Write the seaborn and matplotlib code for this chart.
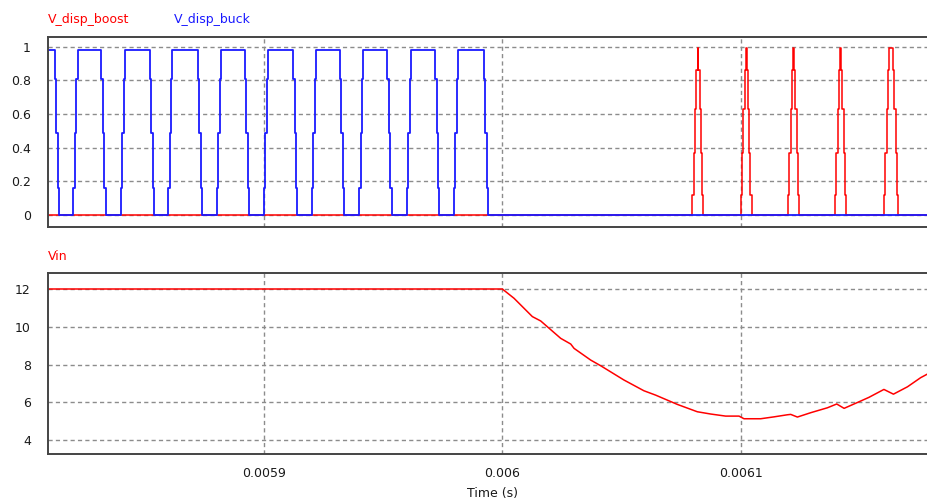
import matplotlib
matplotlib.use("Agg")
import matplotlib.pyplot as plt
import seaborn as sns
import pandas as pd

# ---- waveform data (times in microseconds) ----
# Buck drive: pulse edges and the stepped levels seen on each edge
buck_fall_us = [5812.2, 5831.8, 5852.2, 5872.2, 5891.9, 5912.2, 5931.9, 5951.8, 5971.8, 5992.3]
buck_rise_us = [5820.0, 5840.0, 5859.8, 5880.2, 5900.0, 5920.0, 5939.9, 5959.9, 5979.7]
buck_edge_up = [0.16, 0.49, 0.81]
buck_edge_down = [0.81, 0.49, 0.16]
buck_high = 0.98
buck_step_us = 0.6

# Boost drive: short pulses after the input drop
boost_rise_us = [6079.7, 6100.0, 6119.9, 6139.6, 6160.1]
boost_hold_us = [0.4, 0.4, 0.4, 0.4, 1.7]
boost_edge_up = [0.12, 0.37, 0.63, 0.86]
boost_edge_down = [0.86, 0.63, 0.37, 0.12]
boost_high = 0.99
boost_step_up_us = 0.55
boost_step_down_us = 0.5

# Input voltage
vin_t_us = [5809.2, 6000.0, 6004.9, 6012.6, 6016.1, 6024.5, 6028.7, 6030.1, 6037.1, 6041.3,
            6051.0, 6059.4, 6064.3, 6073.4, 6081.8, 6087.4, 6093.7, 6099.3, 6101.4, 6108.4,
            6114.0, 6119.6, 6121.0, 6123.8, 6129.4, 6136.4, 6140.3, 6143.4, 6149.0, 6153.8,
            6160.1, 6164.1, 6170.0, 6175.5, 6178.9]
vin_v = [12, 12, 11.51, 10.54, 10.31, 9.39, 9.09, 8.86, 8.24, 7.94,
         7.19, 6.62, 6.39, 5.90, 5.51, 5.39, 5.28, 5.28, 5.14, 5.14,
         5.24, 5.35, 5.37, 5.23, 5.46, 5.72, 5.92, 5.69, 6.0, 6.27,
         6.69, 6.44, 6.83, 7.31, 7.54]

x_ticks = [0.0059, 0.006, 0.0061]
x_tick_labels = ["0.0059", "0.006", "0.0061"]
top_yticks = [0, 0.2, 0.4, 0.6, 0.8, 1]
top_ytick_labels = ["0", "0.2", "0.4", "0.6", "0.8", "1"]
bot_yticks = [4, 6, 8, 10, 12]
bot_ytick_labels = ["4", "6", "8", "10", "12"]

T_START_US, T_END_US = 5809.17, 6178.6


def steps_to_frame(events):
    """Turn (time, level) change points into a step trace (held until next change)."""
    events = sorted(events)
    ts, vs = [], []
    for (t0, v0), (t1, _) in zip(events[:-1], events[1:]):
        ts += [t0 * 1e-6, t1 * 1e-6]
        vs += [v0, v0]
    ts.append(events[-1][0] * 1e-6)
    vs.append(events[-1][1])
    return pd.DataFrame({"t": ts, "v": vs})


# buck trace
buck_ev = [(T_START_US, buck_high)]
for f in buck_fall_us:
    for k, lv in enumerate(buck_edge_down):
        buck_ev.append((f + k * buck_step_us, lv))
    buck_ev.append((f + len(buck_edge_down) * buck_step_us, 0.0))
for r in buck_rise_us:
    for k, lv in enumerate(buck_edge_up):
        buck_ev.append((r + k * buck_step_us, lv))
    buck_ev.append((r + len(buck_edge_up) * buck_step_us, buck_high))
buck_ev.append((T_END_US, 0.0))
buck_df = steps_to_frame(buck_ev)

# boost trace
boost_ev = [(T_START_US, 0.0)]
for r, h in zip(boost_rise_us, boost_hold_us):
    for k, lv in enumerate(boost_edge_up):
        boost_ev.append((r + k * boost_step_up_us, lv))
    t_peak = r + len(boost_edge_up) * boost_step_up_us
    boost_ev.append((t_peak, boost_high))
    t_fall = t_peak + h
    for k, lv in enumerate(boost_edge_down):
        boost_ev.append((t_fall + k * boost_step_down_us, lv))
    boost_ev.append((t_fall + len(boost_edge_down) * boost_step_down_us, 0.0))
boost_ev.append((T_END_US, 0.0))
boost_df = steps_to_frame(boost_ev)

vin_df = pd.DataFrame({"t": [t * 1e-6 for t in vin_t_us], "v": vin_v})

# ---- figure ----
sns.set_style("white")
plt.rcParams["font.family"] = ["DejaVu Sans"]
plt.rcParams["lines.scale_dashes"] = False

fig = plt.figure(figsize=(9.28, 5.01), dpi=100)
ax_top = fig.add_axes([0.0512, 0.5475, 0.9488, 0.3792])
ax_bot = fig.add_axes([0.0512, 0.0932, 0.9488, 0.3613])

RED = "#ff0000"
BLUE = "#1a1aff"
GRID = "#8c8c8c"
FRAME = "#444444"
TEXT = "#1a1a1a"

sns.lineplot(data=boost_df, x="t", y="v", ax=ax_top, sort=False, estimator=None,
             color=RED, linewidth=1.1)
sns.lineplot(data=buck_df, x="t", y="v", ax=ax_top, sort=False, estimator=None,
             color=BLUE, linewidth=1.3)
sns.lineplot(data=vin_df, x="t", y="v", ax=ax_bot, sort=False, estimator=None,
             color=RED, linewidth=1.1)

xlim = (0.00580917, 0.0061786)
for ax, yt, ytl, ylim in [(ax_top, top_yticks, top_ytick_labels, (-0.07, 1.06)),
                          (ax_bot, bot_yticks, bot_ytick_labels, (3.26, 12.83))]:
    ax.set_xlim(*xlim)
    ax.set_ylim(*ylim)
    ax.set_xticks(x_ticks)
    ax.set_yticks(yt)
    ax.set_yticklabels(ytl)
    ax.set_xlabel("")
    ax.set_ylabel("")
    ax.grid(True, color=GRID, linestyle=(0, (3.0, 2.3)), linewidth=1.0)
    ax.set_axisbelow(True)
    for side in ("left", "top", "bottom"):
        ax.spines[side].set_color(FRAME)
        ax.spines[side].set_linewidth(1.4)
    ax.spines["right"].set_visible(False)
    ax.tick_params(axis="both", length=0, labelsize=9, labelcolor=TEXT)
    ax.tick_params(axis="y", pad=12)
    ax.tick_params(axis="x", pad=9)

ax_top.set_xticklabels([])
ax_bot.set_xticklabels(x_tick_labels)

fig.text(47.7 / 928, 1 - 19 / 501, "V_disp_boost", color=RED, fontsize=9, va="center", ha="left")
fig.text(174.3 / 928, 1 - 19 / 501, "V_disp_buck", color=BLUE, fontsize=9, va="center", ha="left")
fig.text(47.7 / 928, 1 - 256 / 501, "Vin", color=RED, fontsize=9, va="center", ha="left")
fig.text(492.3 / 928, 1 - 493.3 / 501, "Time (s)", color=TEXT, fontsize=9, va="center", ha="center")

fig.savefig("out.png", dpi=100)
